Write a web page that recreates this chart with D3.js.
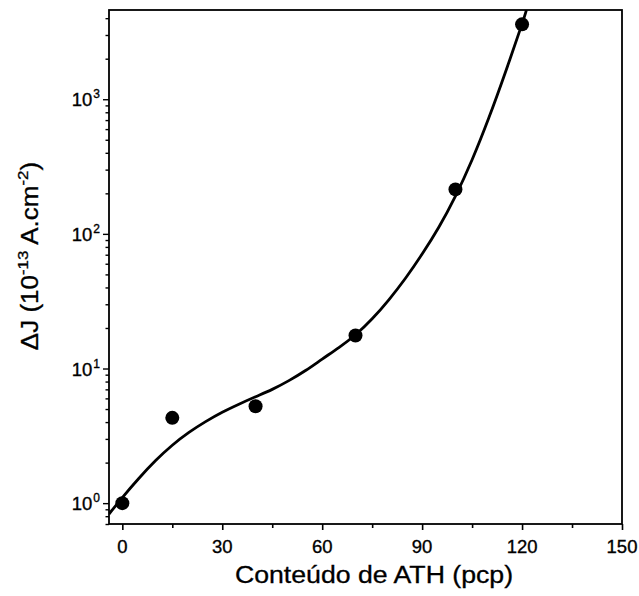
<!DOCTYPE html>
<html>
<head>
<meta charset="utf-8">
<script src="https://cdn.jsdelivr.net/npm/d3@7"></script>
<style>
  html, body { margin: 0; padding: 0; background: #fff; }
  svg { display: block; }
  text { font-family: "Liberation Sans", Arial, sans-serif; fill: #000; }
</style>
</head>
<body>
<svg id="chart" width="639" height="596"></svg>
<script>
// ---- data ----
const athContent = [0, 15, 40, 70, 100, 120];            // pcp
const deltaJ = [1.0, 4.3, 5.25, 17.6, 214, 3600];        // 10^-13 A.cm^-2

// fitted curve
const fitX = [-4, 0, 5, 10, 15, 20, 25, 30, 35, 40, 45, 50, 55, 60, 65, 70, 75, 80, 85, 90, 95, 100, 105, 110, 115, 120, 121.3];
const fitY = [0.83, 1.1, 1.53, 2.07, 2.69, 3.35, 4.03, 4.73, 5.43, 6.17, 7.0, 8.13, 9.66, 11.75, 14.3, 17.8,
              23.4, 32.4, 46.8, 70.8, 112, 191, 355, 724, 1585, 3631, 4600];

const xMajorTicks = [0, 30, 60, 90, 120, 150];
const xMinorTicks = [15, 45, 75, 105, 135];
const yMajorTicks = [1, 10, 100, 1000];
const yExponents = ["0", "1", "2", "3"];
const yMinorTicks = [0.7, 0.8, 0.9, 2, 3, 4, 5, 6, 7, 8, 9, 20, 30, 40, 50, 60, 70, 80, 90,
                     200, 300, 400, 500, 600, 700, 800, 900, 2000, 3000, 4000];

const xTitle = "Conteúdo de ATH (pcp)";

// ---- layout ----
const svg = d3.select("#chart");
const pL = 109, pR = 622, pT = 10, pB = 524;

const x = d3.scaleLinear().domain([-4, 150]).range([pL, pR]);
const y = d3.scaleLog().domain([0.7, 4600]).range([pB, pT]);

svg.append("defs").append("clipPath").attr("id", "clip")
  .append("rect").attr("x", pL).attr("y", pT).attr("width", pR - pL).attr("height", pB - pT);

// frame
svg.append("rect")
  .attr("x", pL).attr("y", pT).attr("width", pR - pL).attr("height", pB - pT)
  .attr("fill", "none").attr("stroke", "#000").attr("stroke-width", 1.8);

// x axis ticks
const xAxisMajor = d3.axisBottom(x).tickValues(xMajorTicks).tickSize(6).tickSizeOuter(0).tickFormat("");
const xAxisMinor = d3.axisBottom(x).tickValues(xMinorTicks).tickSize(4).tickSizeOuter(0).tickFormat("");
[xAxisMajor, xAxisMinor].forEach(ax => {
  const g = svg.append("g").attr("transform", `translate(0,${pB})`).call(ax);
  g.select(".domain").remove();
  g.selectAll("line").attr("stroke", "#000").attr("stroke-width", 1.6);
});
svg.append("g").selectAll("text").data(xMajorTicks).join("text")
  .attr("x", d => x(d)).attr("y", 553)
  .attr("text-anchor", "middle")
  .attr("font-size", 18.5)
  .attr("stroke", "#000").attr("stroke-width", 0.35)
  .text(d => d);

// y axis ticks
const yAxisMajor = d3.axisLeft(y).tickValues(yMajorTicks).tickSize(6).tickSizeOuter(0).tickFormat("");
const yAxisMinor = d3.axisLeft(y).tickValues(yMinorTicks).tickSize(3.5).tickSizeOuter(0).tickFormat("");
[yAxisMajor, yAxisMinor].forEach(ax => {
  const g = svg.append("g").attr("transform", `translate(${pL},0)`).call(ax);
  g.select(".domain").remove();
  g.selectAll("line").attr("stroke", "#000").attr("stroke-width", 1.4);
});
const yLab = svg.append("g").selectAll("text").data(yMajorTicks).join("text")
  .attr("x", 100).attr("y", d => y(d) + 7)
  .attr("text-anchor", "end")
  .attr("stroke", "#000").attr("stroke-width", 0.35);
yLab.append("tspan").attr("font-size", 18.5).text("10");
yLab.append("tspan").attr("font-size", 12).attr("dy", -8).attr("dx", 1)
  .text((d, i) => yExponents[i]);

// axis titles
const xt = svg.append("g").attr("transform", `translate(374,583) scale(1.16,1)`);
xt.append("text").attr("text-anchor", "middle").attr("font-size", 23)
  .attr("stroke", "#000").attr("stroke-width", 0.3)
  .text(xTitle);

const yt = svg.append("g").attr("transform", `translate(38,256) rotate(-90) scale(1.13,1)`);
const ytText = yt.append("text").attr("text-anchor", "middle").attr("font-size", 23)
  .attr("stroke", "#000").attr("stroke-width", 0.3);
ytText.append("tspan").text("\u0394J (10");
ytText.append("tspan").attr("font-size", 15).attr("dy", -10).text("-13");
ytText.append("tspan").attr("dy", 10).text(" A.cm");
ytText.append("tspan").attr("font-size", 15).attr("dy", -10).text("-2");
ytText.append("tspan").attr("dy", 10).text(")");

// fitted curve
const fit = fitX.map((v, i) => [v, fitY[i]]);
svg.append("path")
  .datum(fit)
  .attr("clip-path", "url(#clip)")
  .attr("fill", "none").attr("stroke", "#000").attr("stroke-width", 2.8)
  .attr("stroke-linejoin", "round")
  .attr("d", d3.line().x(d => x(d[0])).y(d => y(d[1])).curve(d3.curveNatural));

// data points
svg.append("g").selectAll("circle").data(athContent).join("circle")
  .attr("cx", d => x(d)).attr("cy", (d, i) => y(deltaJ[i]))
  .attr("r", 7).attr("fill", "#000");
</script>
</body>
</html>
